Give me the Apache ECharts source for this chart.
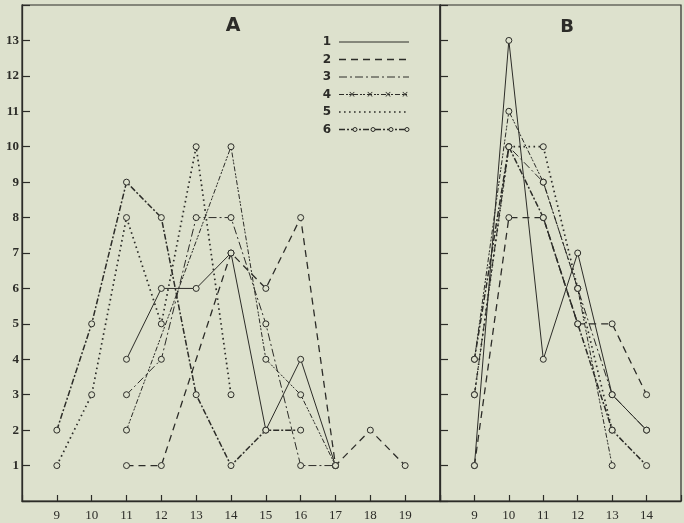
<!DOCTYPE html>
<html><head><meta charset="utf-8">
<script src="https://cdn.jsdelivr.net/npm/echarts@6/dist/echarts.min.js"></script>
<style>html,body{margin:0;padding:0;background:#dde1cd;}#c{width:684px;height:523px;}</style>
</head><body><div id="c"></div>
<script>
// ---- data ----
const legendLabels = ['1', '2', '3', '4', '5', '6'];
const panelTitles = ['A', 'B'];
const yTicks = [1, 2, 3, 4, 5, 6, 7, 8, 9, 10, 11, 12, 13];
const xTicksA = [9, 10, 11, 12, 13, 14, 15, 16, 17, 18, 19];
const xTicksB = [9, 10, 11, 12, 13, 14];

// Panel A: [x, y]
const A1 = [[11, 4], [12, 6], [13, 6], [14, 7], [15, 2], [16, 4], [17, 1]];
const A2 = [[11, 1], [12, 1], [14, 7], [15, 6], [16, 8], [17, 1], [18, 2], [19, 1]];
const A3 = [[11, 3], [12, 4], [13, 8], [14, 8], [15, 5], [16, 1], [17, 1]];
const A4 = [[11, 2], [14, 10], [15, 4], [16, 3], [17, 1]];
const A5 = [[9, 1], [10, 3], [11, 8], [12, 5], [13, 10], [14, 3]];
const A6 = [[9, 2], [10, 5], [11, 9], [12, 8], [13, 3], [14, 1], [15, 2], [16, 2]];

// Panel B: [x, y]
const B1 = [[9, 1], [10, 13], [11, 4], [12, 7], [13, 3], [14, 2]];
const B2 = [[9, 1], [10, 8], [11, 8], [12, 5], [13, 5], [14, 3]];
const B3 = [[9, 3], [10, 10], [11, 9], [12, 6], [13, 3], [14, 2]];
const B4 = [[9, 4], [10, 11], [11, 9], [12, 6], [13, 1]];
const B5 = [[9, 3], [10, 10], [11, 10], [12, 6], [13, 2]];
const B6 = [[9, 4], [10, 10], [11, 8], [12, 5], [13, 2], [14, 1]];

// ---- style ----
const INK = '#2c2c28';
const BG = '#dde1cd';
const lineStyles = [
  { type: 'solid', width: 1 },
  { type: [7, 5], width: 1.3 },
  { type: [8, 3, 2, 3], width: 1 },
  { type: [5, 2, 2, 1, 2, 2], width: 1 },
  { type: [1.6, 3.4], width: 1.7 },
  { type: [6, 2, 2, 2], width: 1.5 }
];
const panels = [[A1, A2, A3, A4, A5, A6], [B1, B2, B3, B4, B5, B6]];

const chart = echarts.init(document.getElementById('c'), null, { renderer: 'canvas' });

const series = [];
panels.forEach((set, p) => {
  set.forEach((d, i) => {
    series.push({
      type: 'line',
      name: legendLabels[i],
      xAxisIndex: p,
      yAxisIndex: p,
      data: d,
      symbol: 'circle',
      symbolSize: 6,
      showSymbol: true,
      animation: false,
      itemStyle: { color: BG, borderColor: INK, borderWidth: 1 },
      lineStyle: Object.assign({ color: INK }, lineStyles[i]),
      emphasis: { disabled: true },
      z: 3
    });
  });
});

function xAxisOf(idx, min, max, ticks) {
  return {
    type: 'value', gridIndex: idx, min: min, max: max, interval: 1,
    axisLine: { show: true, onZero: false, lineStyle: { color: INK, width: 1.3 } },
    axisTick: { show: true, inside: true, length: 6, lineStyle: { color: INK, width: 1.2 } },
    axisLabel: {
      show: true, margin: 8, color: INK, fontFamily: 'Liberation Serif', fontSize: 13,
      formatter: v => ticks.includes(v) ? String(v) : ''
    },
    splitLine: { show: false }
  };
}
function yAxisOf(idx, labels) {
  return {
    type: 'value', gridIndex: idx, min: 0, max: 14, interval: 1,
    axisLine: { show: true, lineStyle: { color: INK, width: 1.3 } },
    axisTick: { show: true, inside: true, length: 8, lineStyle: { color: INK, width: 1.2 } },
    axisLabel: {
      show: labels, margin: 3, color: INK, fontFamily: 'Liberation Serif', fontSize: 13, fontWeight: 'bold',
      formatter: v => yTicks.includes(v) ? String(v) : ''
    },
    splitLine: { show: false }
  };
}

// legend drawn as graphic (number left, line sample right)
const legendX0 = 339, legendX1 = 409, legendNumX = 327, legendY0 = 42, legendStep = 17.5;
const graphic = [];
legendLabels.forEach((lab, i) => {
  const y = legendY0 + i * legendStep;
  graphic.push({
    type: 'text', x: legendNumX, y: y,
    style: { text: lab, fill: INK, font: 'bold 12px "DejaVu Sans"', textAlign: 'center', textVerticalAlign: 'middle' }
  });
  const ls = lineStyles[i];
  graphic.push({
    type: 'line', shape: { x1: legendX0, y1: y, x2: legendX1, y2: y },
    style: { stroke: INK, lineWidth: ls.width, lineDash: ls.type === 'solid' ? null : ls.type }
  });
  if (i === 3) {
    [352, 370, 388, 405].forEach(cx => {
      graphic.push({ type: 'text', x: cx, y: y, style: { text: '×', fill: INK, font: '9px "DejaVu Sans"', textAlign: 'center', textVerticalAlign: 'middle' } });
    });
  }
  if (i === 5) {
    [355, 373, 391, 407].forEach(cx => {
      graphic.push({ type: 'circle', shape: { cx: cx, cy: y, r: 2 }, style: { fill: BG, stroke: INK, lineWidth: 1 } });
    });
  }
});
graphic.push({ type: 'text', x: 233, y: 26, style: { text: panelTitles[0], fill: INK, font: 'bold 19px "DejaVu Sans"', textAlign: 'center', textVerticalAlign: 'middle' } });
graphic.push({ type: 'text', x: 567, y: 27, style: { text: panelTitles[1], fill: INK, font: 'bold 18px "DejaVu Sans"', textAlign: 'center', textVerticalAlign: 'middle' } });

chart.setOption({
  backgroundColor: BG,
  animation: false,
  grid: [
    { left: 22, top: 5, width: 418, height: 496, show: true, borderColor: INK, borderWidth: 1.2, outerBoundsMode: 'none' },
    { left: 440, top: 5, width: 241, height: 496, show: true, borderColor: INK, borderWidth: 1.2, outerBoundsMode: 'none' }
  ],
  xAxis: [xAxisOf(0, 8, 20, xTicksA), xAxisOf(1, 8, 15, xTicksB)],
  yAxis: [yAxisOf(0, true), yAxisOf(1, false)],
  series: series,
  graphic: graphic
});
</script></body></html>
